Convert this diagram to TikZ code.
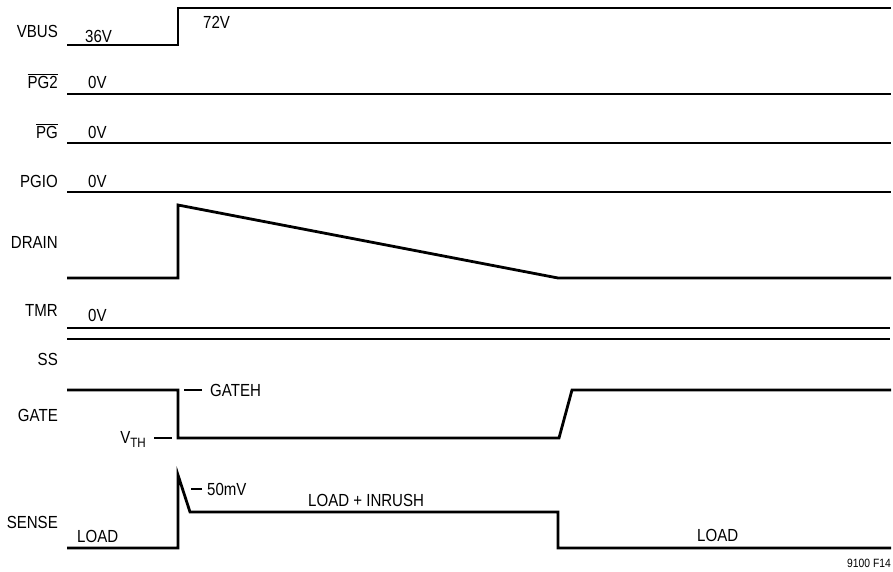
\documentclass[tikz,border=0pt]{standalone}
\usepackage{fontspec}
\setmainfont[FakeStretch=0.86]{Liberation Sans}
\usetikzlibrary{positioning}
\tikzset{
  sig/.style={anchor=east, inner sep=0pt, font=\fontsize{17.5}{19}\selectfont},
  val/.style={anchor=west, inner sep=0pt, font=\fontsize{17.5}{19}\selectfont},
  wave/.style={line width=2.8pt, line join=miter},
  tick/.style={line width=1.1pt},
}

\begin{document}
\begin{tikzpicture}[x=1pt, y=-1pt]
    \useasboundingbox (0,0) rectangle (893,571);

    % signal names
    \node (vbus) [sig] at (58,31) {VBUS};
    \node (pgtwo) [sig] at (58,81) {$\overline{\mbox{PG2}}$};
    \node (pg) [sig] at (58,131) {$\overline{\mbox{PG}}$};
    \node (pgio) [sig] at (58,181) {PGIO};
    \node (drain) [sig] at (58,242) {DRAIN};
    \node (tmr) [sig] at (58,310) {TMR};
    \node (ss) [sig] at (58,359) {SS};
    \node (gate) [sig] at (58,415) {GATE};
    \node (sense) [sig] at (58,522) {SENSE};

    % waveforms
    \draw[wave] (67,45) -- (178,45) -- (178,8) -- (891,8);
    \draw[wave] (67,94) -- (891,94);
    \draw[wave] (67,143) -- (891,143);
    \draw[wave] (67,192) -- (891,192);
    \draw[wave] (67,278) -- (178,278) -- (178,205) -- (558,278) -- (891,278);
    \draw[wave] (67,328) -- (890,328);
    \draw[wave] (67,339) -- (890,339);
    \draw[wave] (67,390) -- (178,390) -- (178,438) -- (559,438) -- (572,390) -- (891,390);
    \draw[wave] (67,548) -- (178,548) -- (178,475) -- (190,512) -- (558,512) -- (558,548) -- (891,548);

    % levels
    \node (v36) [val] at (85,36) {36V};
    \node (v72) [val] at (203,22) {72V};
    \node (pgtwozero) [val] at (88,82) {0V};
    \node (pgzero) [val] at (88,132) {0V};
    \node (pgiozero) [val] at (88,181) {0V};
    \node (tmrzero) [val] at (88,315) {0V};
    \node (gateh) [val] at (210,390) {GATEH};
    \node (vth) [sig, anchor=base east] at (146,443) {V\raisebox{-0.45ex}{\fontsize{13.5}{14}\selectfont TH}};
    \node (fifty) [val] at (207,489) {50mV};
    \node (inrush) [val] at (308,500) {LOAD + INRUSH};
    \node (loadlow) [val] at (77,536) {LOAD};
    \node (loadhigh) [val] at (697,535) {LOAD};
    \node (fig) [anchor=east, inner sep=0pt, font=\fontsize{12}{13}\selectfont] at (891,563) {9100 F14};

    \draw[tick] ([xshift=-8pt]gateh.west) -- ++(-18,0);
    \draw[tick] ([xshift=8pt]vth.east |- 0,438) -- ++(18,0);
    \draw[tick] ([xshift=-5pt]fifty.west) -- ++(-11,0);
\end{tikzpicture}
\end{document}
